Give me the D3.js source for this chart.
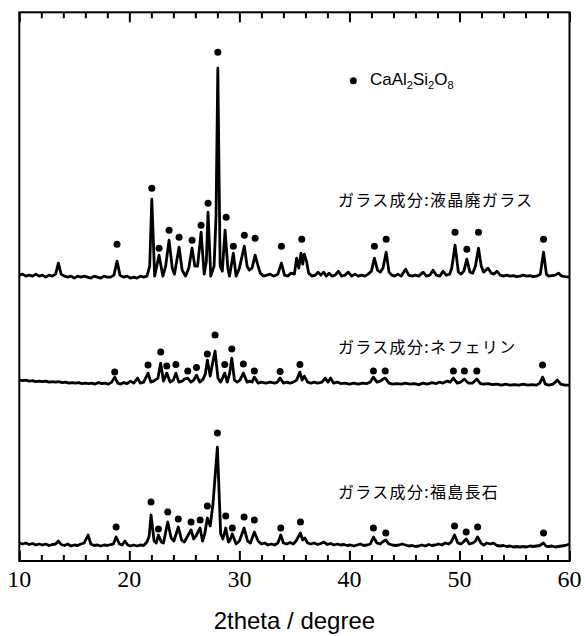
<!DOCTYPE html>
<html>
<head>
<meta charset="utf-8">
<script src="https://cdn.jsdelivr.net/npm/d3@7"></script>
<style>
  body { margin: 0; background: #fff; }
  svg { display: block; }
</style>
</head>
<body>
<div id="chart"></div>
<script>
// x ticks (2theta)
var majorTicks = [10, 20, 30, 40, 50, 60];
var minorTicks = [12, 14, 16, 18, 22, 24, 26, 28, 32, 34, 36, 38, 42, 44, 46, 48, 52, 54, 56, 58];

// baseline offset of each pattern (a.u.)
var offsets = [285, 179, 17];
var sampleLabels = ["ガラス成分:液晶廃ガラス", "ガラス成分:ネフェリン", "ガラス成分:福島長石"];
var legendLabel = "CaAl2Si2O8";

// top pattern : [2theta, intensity]
var traceTop = [
  [10.0, 1], [10.3, 2], [10.6, 0], [10.9, 1], [11.2, 0], [11.5, 2], [11.8, 0], [12.1, 1], [12.4, -1], [12.7, 1],
  [13.0, 0], [13.3, 2], [13.55, 13], [13.8, 2], [14.1, 0], [14.4, -1], [14.7, 0], [15.0, -2], [15.3, 0], [15.6, -1],
  [15.9, 0], [16.2, -1], [16.5, -2], [16.8, 0], [17.1, -1], [17.4, -2], [17.7, 0], [18.0, -1], [18.3, -1], [18.6, 1],
  [18.88, 15], [19.15, 1], [19.5, -1], [19.8, 0], [20.1, -2], [20.4, -1], [20.7, -2], [21.0, 0], [21.3, -1], [21.6, 0],
  [21.85, 10], [22.04, 77], [22.3, 0], [22.7, 21], [23.05, 0], [23.3, 10], [23.61, 36], [23.9, 8], [24.1, 2], [24.52, 29],
  [24.8, 6], [25.1, 0], [25.4, 8], [25.7, 28], [25.95, 10], [26.2, 10], [26.52, 44], [26.8, 2], [27.0, 15], [27.15, 64],
  [27.4, 0], [27.7, 10], [27.88, 60], [28.04, 208], [28.25, 10], [28.45, 5], [28.7, 46], [28.95, 8], [29.1, 0], [29.45, 23],
  [29.7, 0], [30.0, 8], [30.45, 30], [30.7, 10], [30.9, 6], [31.15, 8], [31.43, 21], [31.65, 12], [31.9, 3], [32.2, 0],
  [32.5, 1], [32.8, 2], [33.1, 0], [33.5, 2], [33.82, 13], [34.1, 1], [34.4, 0], [34.7, 3], [35.0, 2], [35.2, 18],
  [35.4, 8], [35.6, 23], [35.75, 12], [35.9, 22], [36.1, 15], [36.3, 3], [36.6, 0], [36.9, 1], [37.15, 4], [37.4, 1],
  [37.65, 4], [37.9, 0], [38.15, 3], [38.4, 0], [38.7, 1], [39.0, 5], [39.3, 0], [39.6, 1], [39.9, 4], [40.2, 0],
  [40.5, 2], [40.8, 0], [41.1, 1], [41.4, 0], [41.7, 2], [42.0, 5], [42.27, 18], [42.55, 6], [42.8, 4], [43.05, 8],
  [43.34, 24], [43.6, 4], [43.85, 1], [44.1, 0], [44.4, 2], [44.7, 0], [45.1, 7], [45.4, 1], [45.7, 0], [46.0, 1],
  [46.3, 0], [46.7, 4], [47.0, 0], [47.3, 1], [47.6, 6], [47.9, 1], [48.2, 0], [48.5, 5], [48.8, 1], [49.1, 2],
  [49.3, 8], [49.6, 31], [49.9, 4], [50.15, 2], [50.4, 5], [50.67, 17], [50.95, 4], [51.2, 3], [51.45, 10], [51.73, 28],
  [51.98, 10], [52.2, 4], [52.6, 8], [52.9, 3], [53.15, 2], [53.4, 5], [53.7, 1], [54.0, 0], [54.3, 1], [54.6, 0],
  [54.9, 0.5], [55.2, -0.5], [55.5, 0], [55.8, 1], [56.1, 0], [56.4, 0.5], [56.7, -0.5], [57.0, 0], [57.35, 2], [57.64, 24],
  [57.9, 2], [58.1, 0], [58.4, 0.5], [58.7, 1], [59.0, 3], [59.3, 0], [59.6, -0.5], [60.0, -1]
];

// middle pattern
var traceMid = [
  [10.0, 2], [10.3, 1.5], [10.6, 2], [10.9, 1], [11.2, 1.5], [11.5, 0.5], [11.8, 1], [12.1, 0.5], [12.4, 1], [12.7, 0],
  [13.0, 0.5], [13.3, 0], [13.6, 0.5], [13.9, -0.5], [14.2, 0], [14.5, -1], [14.8, -0.5], [15.1, -1], [15.4, -0.5], [15.7, -1.5],
  [16.0, -1], [16.3, -1.5], [16.6, -1], [16.9, -2], [17.2, -0.5], [17.5, -1.5], [17.8, -1], [18.1, -2], [18.4, 0], [18.67, 5],
  [18.95, -1], [19.2, -2], [19.5, -0.5], [19.8, -1.5], [20.1, 1], [20.4, -1], [20.75, 4], [21.0, -1], [21.3, 0], [21.7, 9],
  [21.95, 0], [22.2, 1], [22.6, 4], [22.85, 19], [23.1, 1], [23.4, 9], [23.7, 0], [24.0, 2], [24.23, 9], [24.5, 0],
  [24.8, 1], [25.0, 3], [25.31, 4], [25.6, 0], [25.85, 2], [26.1, 7], [26.4, 0], [26.7, 3], [26.9, 8], [27.09, 22],
  [27.35, 6], [27.55, 18], [27.79, 31], [28.05, 4], [28.3, 0], [28.67, 9], [28.9, 0], [29.1, 8], [29.31, 24], [29.55, 2],
  [29.8, 0], [30.05, 2], [30.36, 9], [30.7, 0], [30.95, 1], [31.15, 0], [31.36, 5], [31.7, -1], [32.0, 0], [32.4, -1],
  [32.8, 0], [33.2, -1], [33.45, 0], [33.7, 4], [34.0, -1], [34.3, 0], [34.6, -1], [34.9, 0], [35.2, 2], [35.5, 10],
  [35.7, 2], [35.9, 6], [36.2, 0], [36.5, -1], [36.8, 0], [37.1, -1], [37.5, 0], [37.8, 4], [38.05, 0], [38.3, 4],
  [38.55, -1], [38.9, 0], [39.2, -1.5], [39.6, -1], [40.0, -2], [40.4, -1], [40.8, -2], [41.2, -1], [41.6, -1.5], [41.9, 0],
  [42.18, 5], [42.5, 0], [42.8, 1], [43.05, 3], [43.25, 4], [43.6, -1], [43.9, -2], [44.3, -1.5], [44.7, -2], [45.1, -1],
  [45.5, -2], [45.9, -1.5], [46.3, -2.5], [46.7, -1], [47.1, -2], [47.5, -0.5], [47.9, -1.5], [48.2, 0], [48.5, -1], [48.9, 1],
  [49.15, 0], [49.45, 4], [49.8, -1], [50.1, 0], [50.45, 3], [50.8, -1], [51.2, -1], [51.58, 3], [51.9, -1.5], [52.2, -2],
  [52.6, -1.5], [53.0, -2.5], [53.4, -2], [53.8, -3], [54.2, -2], [54.6, -3], [55.0, -2.5], [55.4, -3], [55.8, -2], [56.2, -3],
  [56.6, -2.5], [57.0, -3], [57.3, -1], [57.55, 5], [57.8, -2], [58.1, -3], [58.5, -2], [58.9, 2], [59.2, -2], [59.6, -3],
  [60.0, -3]
];

// bottom pattern
var traceBot = [
  [10.0, 1], [10.3, 0], [10.6, 1], [10.9, -0.5], [11.2, 0.5], [11.5, -1], [11.8, 0], [12.1, -1], [12.4, 0], [12.7, -1.5],
  [13.0, -0.5], [13.3, 0], [13.55, 3], [13.8, -0.5], [14.1, -1.5], [14.4, 0], [14.7, -2], [15.0, -1], [15.3, -1.5], [15.6, 0],
  [15.9, 1], [16.25, 9], [16.5, 0], [16.8, -1.5], [17.1, -1], [17.4, -2], [17.7, -1], [18.0, -1.5], [18.3, -0.5], [18.55, 0],
  [18.8, 7], [19.1, 0], [19.35, -1], [19.6, 3], [19.85, -1], [20.1, -2], [20.4, -1], [20.7, -2], [21.0, -1], [21.3, -1.5],
  [21.6, 2], [21.8, 8], [21.97, 29], [22.25, 3], [22.45, 1], [22.64, 9], [22.9, 2], [23.1, 1], [23.49, 22], [23.8, 6],
  [24.05, 3], [24.45, 17], [24.75, 4], [25.0, 2], [25.25, 7], [25.61, 14], [25.85, 5], [26.05, 8], [26.43, 16], [26.65, 3],
  [26.85, 10], [27.09, 26], [27.35, 18], [27.6, 40], [28.0, 97], [28.3, 10], [28.5, 5], [28.76, 16], [29.0, 2], [29.15, 4],
  [29.36, 10], [29.7, 0], [30.0, 3], [30.43, 16], [30.75, 3], [31.0, 1], [31.36, 12], [31.7, 3], [32.0, 0], [32.3, 1],
  [32.6, -1], [32.9, 0], [33.2, -1], [33.5, 1], [33.76, 9], [34.0, 1], [34.3, 0], [34.6, 1.5], [34.9, 0], [35.15, 3],
  [35.55, 11], [35.75, 4], [35.95, 6], [36.2, 1], [36.5, 0], [36.8, 1], [37.1, -0.5], [37.4, 0.5], [37.7, 2], [38.0, -0.5],
  [38.3, 0.5], [38.6, -1], [38.9, 0], [39.2, -1], [39.5, -0.5], [39.8, -1.5], [40.1, -1], [40.4, -2], [40.7, -1], [41.0, 0],
  [41.3, -1.5], [41.6, -1], [41.9, 0], [42.18, 7], [42.5, 1], [42.8, 0], [43.0, 2], [43.31, 4], [43.6, 0], [43.9, -1],
  [44.2, -1.5], [44.5, -1], [44.8, 0], [45.1, -1], [45.4, -2], [45.7, -1.5], [46.0, -2.5], [46.3, -2], [46.6, -1], [46.9, -2],
  [47.2, -0.5], [47.5, -1.5], [47.8, -1], [48.1, 0], [48.4, -1], [48.7, 1], [49.0, 0], [49.25, 2], [49.55, 9], [49.85, 1],
  [50.1, 0], [50.35, 2], [50.61, 5], [50.9, 0], [51.2, 1], [51.45, 3], [51.65, 7], [51.95, 1], [52.2, -1], [52.5, 1],
  [52.8, 0], [53.1, 1], [53.4, -1.5], [53.7, -2], [54.0, -1.5], [54.3, -2.5], [54.6, -2], [54.9, -3], [55.2, -2.5], [55.5, -3],
  [55.8, -2.5], [56.1, -3], [56.4, -2], [56.7, -2.5], [57.0, -2], [57.3, -1.5], [57.64, 1], [57.85, -2], [58.1, -2.5], [58.4, -2],
  [58.7, -3], [59.0, -2.5], [59.3, -2], [59.6, -1.5], [60.0, 0]
];

// CaAl2Si2O8 marks : [2theta, height above baseline]
var dotsTop = [
  [18.88, 32], [22.04, 88], [22.7, 28], [23.61, 46], [24.52, 39], [25.7, 36], [26.52, 51], [27.15, 73], [28.04, 224],
  [28.8, 59], [29.45, 30], [30.45, 41], [31.43, 38], [33.82, 30], [35.67, 37], [42.27, 30], [43.34, 37], [49.6, 44],
  [50.67, 27], [51.73, 44], [57.64, 37]
];
var dotsMid = [
  [18.67, 10], [21.7, 17], [22.85, 30], [23.4, 16], [24.23, 17.5], [25.31, 11], [26.1, 14.5], [27.09, 28], [27.79, 47],
  [28.67, 17.5], [29.31, 33], [30.36, 18], [31.36, 11], [33.7, 10.5], [35.5, 17.5], [42.18, 11], [43.25, 11], [49.45, 11],
  [50.45, 11], [51.58, 11], [57.55, 17]
];
var dotsBot = [
  [18.8, 17], [21.97, 42], [22.64, 15], [23.49, 32], [24.45, 25], [25.61, 22], [26.43, 24], [27.09, 38], [28.0, 111],
  [28.76, 28], [29.36, 16], [30.43, 27], [31.36, 24], [33.76, 16], [35.55, 22], [42.18, 16], [43.31, 11], [49.55, 18],
  [50.61, 12], [51.65, 17], [57.64, 11]
];

var traces = [traceTop, traceMid, traceBot];
var dots = [dotsTop, dotsMid, dotsBot];

var width = 585, height = 636;
var plot = {left: 19.3, right: 569.5, top: 12.3, bottom: 561};

var xScale = d3.scaleLinear()
    .domain([10, 60])
    .range([plot.left, plot.right]);

var yScale = d3.scaleLinear()
    .domain([0, 549])
    .range([plot.bottom, plot.top]);

var svg = d3.select("#chart").append("svg")
    .attr("width", width)
    .attr("height", height);

// patterns
var lineGen = d3.line()
    .x(function(d) { return xScale(d[0]); })
    .y(function(d) { return yScale(d[1]); });

for (var a = 0; a < traces.length; a++) {
  var off = offsets[a];
  svg.append("path")
    .datum(traces[a].map(function(d) { return [d[0], d[1] + off]; }))
    .attr("d", lineGen)
    .attr("fill", "none")
    .attr("stroke", "#000")
    .attr("stroke-width", 2.8)
    .attr("stroke-linejoin", "round");

  svg.append("g").selectAll("circle")
    .data(dots[a])
    .enter().append("circle")
    .attr("cx", function(d) { return xScale(d[0]); })
    .attr("cy", function(d) { return yScale(d[1] + off); })
    .attr("r", 3.5)
    .attr("fill", "#000");
}

// sample names
var labelY = [206, 353, 498];
svg.selectAll("text.sample")
  .data(sampleLabels)
  .enter().append("text")
  .attr("class", "sample")
  .attr("x", 338)
  .attr("y", function(d, i) { return labelY[i]; })
  .attr("font-family", "Noto Sans CJK JP")
  .attr("font-size", 16)
  .attr("letter-spacing", 1.3)
  .text(function(d) { return d; });

// legend
svg.append("circle")
  .attr("cx", 353.3).attr("cy", 80.7).attr("r", 3.5).attr("fill", "#000");
var leg = svg.append("text")
  .attr("x", 370).attr("y", 89)
  .attr("font-family", "Liberation Sans")
  .attr("font-size", 17);
var parts = legendLabel.match(/[A-Za-z]+|\d+/g);
parts.forEach(function(p) {
  var isNum = /\d/.test(p);
  leg.append("tspan")
    .attr("dy", isNum ? 4 : (leg.selectAll("tspan").size() ? -4 : 0))
    .attr("font-size", isNum ? 11 : 17)
    .text(p);
});

// axes, ticks pointing inside (labels drawn separately)
svg.append("g")
  .attr("transform", "translate(0," + plot.bottom + ")")
  .call(d3.axisBottom(xScale).tickValues(minorTicks).tickSize(-6).tickFormat(""));
svg.append("g")
  .attr("transform", "translate(0," + plot.bottom + ")")
  .call(d3.axisBottom(xScale).tickValues(majorTicks).tickSize(-10).tickFormat(""));
svg.append("g")
  .attr("transform", "translate(0," + plot.top + ")")
  .call(d3.axisTop(xScale).tickValues(minorTicks).tickSize(-6).tickFormat(""));
svg.append("g")
  .attr("transform", "translate(0," + plot.top + ")")
  .call(d3.axisTop(xScale).tickValues(majorTicks).tickSize(-10).tickFormat(""));

svg.selectAll(".domain").remove();
svg.selectAll(".tick text").remove();
svg.selectAll(".tick line").attr("stroke", "#000").attr("stroke-width", 2);

svg.append("g").selectAll("text")
  .data(majorTicks)
  .enter().append("text")
  .attr("x", function(d) { return xScale(d); })
  .attr("y", plot.bottom + 26)
  .attr("text-anchor", "middle")
  .attr("fill", "#000")
  .attr("font-family", "Liberation Serif")
  .attr("font-size", 24)
  .text(function(d) { return d; });

svg.append("rect")
  .attr("x", plot.left).attr("y", plot.top)
  .attr("width", plot.right - plot.left).attr("height", plot.bottom - plot.top)
  .attr("fill", "none").attr("stroke", "#000").attr("stroke-width", 2);

svg.append("text")
  .attr("x", (plot.left + plot.right) / 2)
  .attr("y", 629)
  .attr("text-anchor", "middle")
  .attr("font-family", "Liberation Sans")
  .attr("font-size", 24)
  .text("2theta / degree");
</script>
</body>
</html>
